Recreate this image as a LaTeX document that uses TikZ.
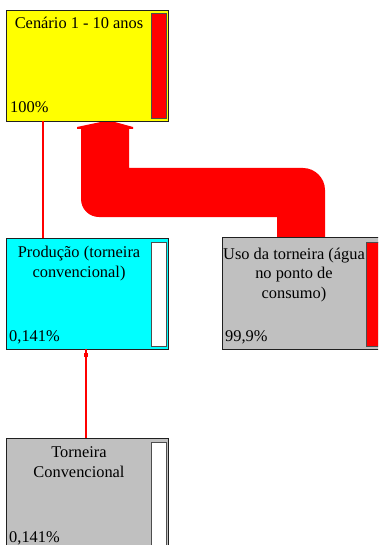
\documentclass[tikz,border=0pt]{standalone}
\usepackage{fontspec}
\setmainfont{Liberation Serif}
\definecolor{boxgray}{HTML}{C0C0C0}
\definecolor{edge}{HTML}{202020}
\definecolor{fyellow}{HTML}{FFFF00}
\definecolor{fcyan}{HTML}{00FFFF}
\definecolor{fred}{HTML}{FF0000}
\begin{document}
\begin{tikzpicture}[x=1pt,y=-1pt,
  box/.style={draw=edge, line width=0.9pt, anchor=north west, inner sep=0pt, outer sep=0pt},
  bar/.style={draw=edge!80, line width=0.9pt, anchor=north west, inner sep=0pt, outer sep=0pt},
  lbl/.style={font=\fontsize{16.4}{19.5}\selectfont, inner sep=0pt, align=center, anchor=base},
  pct/.style={font=\fontsize{16.4}{19.5}\selectfont, inner sep=0pt, anchor=base west},
  thinflow/.style={draw=fred, line width=1.1pt},
  bigflow/.style={fill=fred, draw=none}]
\useasboundingbox (0,0) rectangle (378,545);
\clip (0,0) rectangle (378,545);
\fill[white] (0,0) rectangle (378,545);

% main flow (Sankey band)
\path[bigflow] (81,129) -- (81,199) .. controls (81,209) and (89,217) .. (99,217)
  -- (277,217) -- (277,239) -- (325,239) -- (325,190)
  .. controls (325,178) and (315,168) .. (303,168)
  -- (129,168) -- (129,129) -- (133,129) -- (133,127) -- (113,121.5) -- (103,121.5)
  -- (77,127) -- (77,129) -- cycle;

% boxes
\node[box, fill=fyellow, minimum width=162, minimum height=111] (top) at (6,10) {};
\node[bar, fill=fred, minimum width=15, minimum height=105] (topbar) at (151,13) {};
\node[lbl] (toptxt) at (79,29) {Cenário 1 - 10 anos};
\node[pct] (toppct) at (10,113) {100\%};

\node[box, fill=fcyan, minimum width=162, minimum height=111] (prod) at (6,238) {};
\node[bar, fill=white, minimum width=15, minimum height=104] (prodbar) at (151,242) {};
\node[lbl] (prodtxt) at (79,277) {Produção (torneira\\convencional)};
\node[pct] (prodpct) at (9,341) {0,141\%};

\node[box, fill=boxgray, minimum width=170, minimum height=112] (uso) at (222,237) {};
\node[bar, fill=fred, minimum width=20, minimum height=104] (usobar) at (366,242) {};
\node[lbl] (usotxt) at (294,298) {Uso da torneira (água\\no ponto de\\consumo)};
\node[pct] (usopct) at (225,341) {99,9\%};

\node[box, fill=boxgray, minimum width=162, minimum height=130] (torn) at (6,438) {};
\node[bar, fill=white, minimum width=15, minimum height=120] (tornbar) at (151,442) {};
\node[lbl] (torntxt) at (79,477) {Torneira\\Convencional};
\node[pct] (tornpct) at (9,542) {0,141\%};

% thin connectors
\coordinate (c1) at (43,0);
\coordinate (c2) at (86,0);
\draw[thinflow] (prod.north -| c1) -- (top.south -| c1);
\draw[thinflow] (torn.north -| c2) -- (prod.south -| c2);
\node[fill=fred, minimum size=4pt, inner sep=0pt] (mk) at (86,355) {};
\end{tikzpicture}
\end{document}
